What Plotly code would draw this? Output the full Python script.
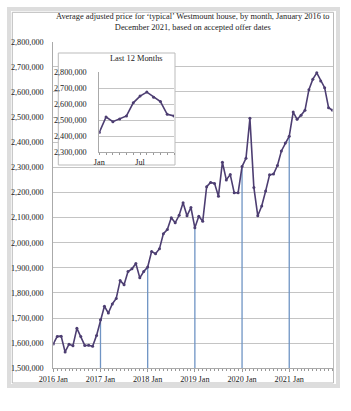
import plotly.graph_objects as go

W, H = 351, 411

years = [2016, 2017, 2018, 2019, 2020, 2021]
month_labels = ["Jan", "Feb", "Mar", "Apr", "May", "Jun", "Jul", "Aug", "Sep", "Oct", "Nov", "Dec"]

prices = [
    # 2016
    1597000, 1627000, 1628000, 1565000, 1596000, 1590000, 1659000, 1627000, 1591000, 1592000, 1588000, 1631000,
    # 2017
    1693000, 1747000, 1720000, 1756000, 1778000, 1849000, 1833000, 1885000, 1896000, 1917000, 1860000, 1885000,
    # 2018
    1903000, 1965000, 1956000, 1976000, 2036000, 2052000, 2099000, 2079000, 2109000, 2159000, 2107000, 2140000,
    # 2019
    2059000, 2105000, 2085000, 2223000, 2240000, 2236000, 2185000, 2320000, 2250000, 2271000, 2199000, 2199000,
    # 2020
    2303000, 2336000, 2495000, 2220000, 2107000, 2146000, 2206000, 2270000, 2273000, 2307000, 2365000, 2397000,
    # 2021
    2424000, 2520000, 2491000, 2507000, 2527000, 2609000, 2651000, 2676000, 2644000, 2617000, 2537000, 2527000,
]

x_idx = list(range(len(prices)))
year_tick_idx = [12 * i for i in range(len(years))]
year_tick_text = [f"{y} Jan" for y in years]

inset_vals = prices[-12:]
inset_idx = list(range(12))
inset_tick_idx = [0, 6]
inset_tick_text = ["Jan", "Jul"]

LINE = "#4D3E72"
DROP = "#6F94C4"
GRID = "#C4C4C4"
FONT = "Liberation Serif"

def px(x):
    return x / W

def py(y):
    return 1 - y / H

# drop lines at each January after the first
dx, dy = [], []
for i in year_tick_idx[1:]:
    dx += [i, i, None]
    dy += [1500000, prices[i], None]

fig = go.Figure()
fig.add_trace(go.Scatter(x=dx, y=dy, mode="lines", line=dict(color=DROP, width=1.3),
                         hoverinfo="skip", showlegend=False, xaxis="x", yaxis="y"))
fig.add_trace(go.Scatter(x=x_idx, y=prices, mode="lines+markers",
                         line=dict(color=LINE, width=1.6), marker=dict(size=3, color=LINE),
                         showlegend=False, xaxis="x", yaxis="y"))
fig.add_trace(go.Scatter(x=inset_idx, y=inset_vals, mode="lines+markers",
                         line=dict(color=LINE, width=1.6), marker=dict(size=3, color=LINE),
                         showlegend=False, xaxis="x2", yaxis="y2"))

main_x0, main_x1 = 53.3, 332.5
main_y0, main_y1 = 41.7, 368.3
ins_x0, ins_x1 = 99.3, 174.0
ins_y0, ins_y1 = 72.3, 152.2
XR = [0, 71]
YR = [1500000, 2800000]

def to_xdata(p):
    return XR[0] + (p - main_x0) / (main_x1 - main_x0) * (XR[1] - XR[0])

def to_ydata(p):
    return YR[0] + (main_y1 - p) / (main_y1 - main_y0) * (YR[1] - YR[0])

axis_font = dict(family=FONT, size=8.2, color="#222")

fig.update_layout(
    width=W, height=H,
    margin=dict(l=0, r=0, t=0, b=0, autoexpand=False),
    paper_bgcolor="white", plot_bgcolor="white",
    font=dict(family=FONT, size=8.2, color="#222"),
    xaxis=dict(domain=[px(main_x0), px(main_x1)], range=XR, automargin=False,
               tickvals=year_tick_idx, ticktext=year_tick_text,
               ticks="outside", ticklen=3, tickcolor="#999", showgrid=False,
               showline=True, linecolor="#AAAAAA", linewidth=1, zeroline=False,
               tickfont=axis_font,
               minor=dict(ticks="outside", dtick=1, tick0=0, ticklen=2, tickcolor="#999", showgrid=False)),
    yaxis=dict(domain=[py(main_y1), py(main_y0)], range=YR, dtick=100000, automargin=False,
               tickformat=",d", showgrid=True, gridcolor=GRID, gridwidth=1,
               showline=True, linecolor="#AAAAAA", zeroline=False, ticks="",
               ticklabelstandoff=7, tickfont=axis_font),
    xaxis2=dict(domain=[px(ins_x0), px(ins_x1)], range=[0, 11], anchor="y2", automargin=False,
                tickvals=inset_tick_idx, ticktext=inset_tick_text,
                ticks="outside", ticklen=2, tickcolor="#999", showgrid=False,
                showline=True, linecolor="#AAAAAA", zeroline=False, tickfont=axis_font,
                minor=dict(ticks="outside", dtick=1, tick0=0, ticklen=2, tickcolor="#999", showgrid=False)),
    yaxis2=dict(domain=[py(ins_y1), py(ins_y0)], range=[2300000, 2800000], dtick=100000,
                anchor="x2", tickformat=",d", showgrid=True, gridcolor=GRID, automargin=False,
                showline=True, linecolor="#AAAAAA", zeroline=False, ticks="",
                ticklabelstandoff=10, tickfont=axis_font),
    shapes=[
        # outer frame
        dict(type="rect", xref="paper", yref="paper", x0=px(9), x1=px(338), y0=py(386), y1=py(9),
             line=dict(color="#DDDDDD", width=4), fillcolor="rgba(0,0,0,0)", layer="below"),
        dict(type="rect", xref="paper", yref="paper", x0=px(12.3), x1=px(333.5), y0=py(383), y1=py(12.3),
             line=dict(color="#BBBBBB", width=1), fillcolor="rgba(0,0,0,0)", layer="below"),
        # inset box
        dict(type="rect", xref="x", yref="y",
             x0=to_xdata(58.3), x1=to_xdata(175.0), y0=to_ydata(165.0), y1=to_ydata(53.0),
             line=dict(color="#BBBBBB", width=1), fillcolor="white", layer="between"),
    ],
    annotations=[
        dict(text="Average adjusted price for ‘typical’ Westmount house, by month, January 2016 to<br>December 2021, based on accepted offer dates",
             xref="paper", yref="paper", x=px(192.5), y=py(22.3), xanchor="center", yanchor="middle",
             showarrow=False, font=dict(family=FONT, size=8.4, color="#222"), align="center"),
        dict(text="Last 12 Months", xref="paper", yref="paper", x=px(136), y=py(58.3),
             xanchor="center", yanchor="middle", showarrow=False,
             font=dict(family=FONT, size=8.4, color="#222")),
    ],
)

fig.write_html("out.html")
